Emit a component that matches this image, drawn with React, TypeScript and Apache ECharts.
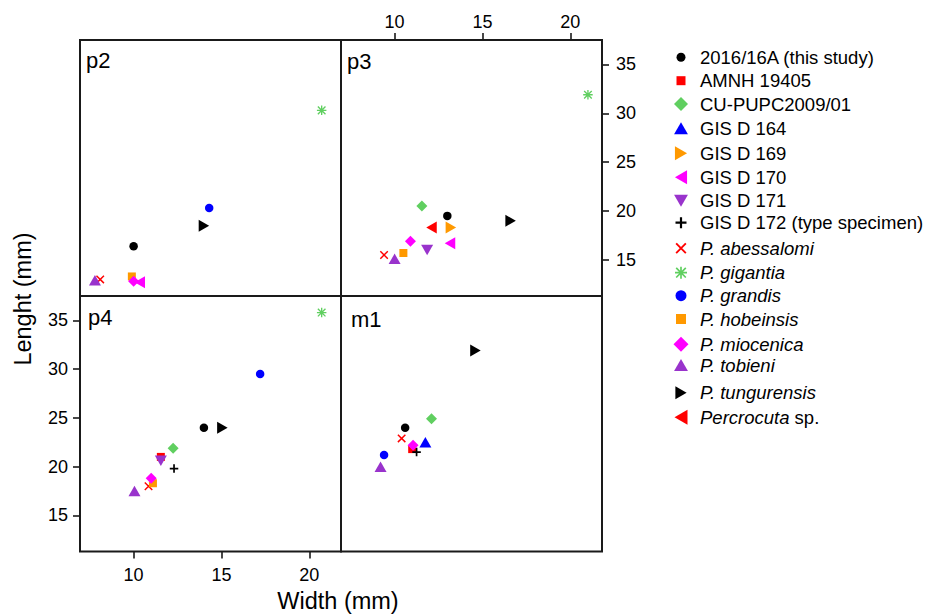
import React, { useEffect, useRef } from 'react';
import * as echarts from 'echarts';

const FONT = '"Liberation Sans", Arial, Helvetica, sans-serif';

// ---- categories (legend order = drawing order) ----
const species = [
  '2016/16A (this study)',
  'AMNH 19405',
  'CU-PUPC2009/01',
  'GIS D 164',
  'GIS D 169',
  'GIS D 170',
  'GIS D 171',
  'GIS D 172 (type specimen)',
  'P. abessalomi',
  'P. gigantia',
  'P. grandis',
  'P. hobeinsis',
  'P. miocenica',
  'P. tobieni',
  'P. tungurensis',
  'Percrocuta sp.',
];

const colors = [
  '#000000', '#FF0000', '#60CF60', '#0000FF', '#FF9900', '#FF00FF', '#9933CC', '#000000',
  '#FF0000', '#60CF60', '#0000FF', '#FF9900', '#FF00FF', '#9933CC', '#000000', '#FF0000',
];

const SYM = {
  circle: 'path://M5,0A5,5,0,1,1,5,10A5,5,0,1,1,5,0Z',
  square: 'path://M0,0H10V10H0Z',
  diamond: 'path://M5,0L10,5L5,10L0,5Z',
  triUp: 'path://M5,0L10,8.66L0,8.66Z',
  triDown: 'path://M0,0L10,0L5,8.66Z',
  triRight: 'path://M0,0L8.66,5L0,10Z',
  triLeft: 'path://M8.66,0L0,5L8.66,10Z',
  plus: 'path://M4,0H6V10H4Z M0,4H10V6H0Z',
  cross: 'path://M0,1.2L1.2,0L10,8.8L8.8,10Z M8.8,0L10,1.2L1.2,10L0,8.8Z',
  star: 'path://M4.3,0H5.7V10H4.3Z M0,4.3H10V5.7H0Z M0.5,1.5L1.5,0.5L9.5,8.5L8.5,9.5Z M8.5,0.5L9.5,1.5L1.5,9.5L0.5,8.5Z',
};

// width / height of each symbol's path
const SYM_ASPECT: Record<string, number> = {
  circle: 1, square: 1, diamond: 1, triUp: 1.1547, triDown: 1.1547,
  triRight: 0.866, triLeft: 0.866, plus: 1, cross: 1, star: 1,
};

const symbolKeys = [
  'circle', 'square', 'diamond', 'triUp', 'triRight', 'triLeft', 'triDown', 'plus',
  'cross', 'star', 'circle', 'square', 'diamond', 'triUp', 'triRight', 'triLeft',
];

const symbolSizes: [number, number][] = [
  [8.5, 8.5], [8, 8], [11, 11], [12, 10.5], [10.5, 12], [10.5, 12], [12, 10.5], [8.5, 8.5],
  [8.5, 8.5], [9.5, 9.5], [8.5, 8.5], [8, 8], [11, 11], [12, 10.5], [10.5, 12], [10.5, 12],
];

const legendIconHeights = [9, 9, 14, 12, 14, 14, 12, 11, 11, 12, 11, 10, 15, 12, 13, 15];
const legendRowY = [57.3, 80.7, 104, 128.3, 153.3, 177.3, 200.7, 222.7, 248.3, 272.7, 295.7, 319, 344.3, 365, 392.7, 417.3];

// ---- data: [species, width (mm), length (mm)] ----
const p2Points: [string, number, number][] = [
  ['2016/16A (this study)', 10.0, 16.4],
  ['GIS D 170', 10.35, 12.7],
  ['P. abessalomi', 8.1, 13.0],
  ['P. gigantia', 20.7, 30.3],
  ['P. grandis', 14.3, 20.3],
  ['P. hobeinsis', 9.9, 13.3],
  ['P. miocenica', 10.0, 12.8],
  ['P. tobieni', 7.8, 12.9],
  ['P. tungurensis', 14.0, 18.5],
];

const p3Points: [string, number, number][] = [
  ['2016/16A (this study)', 13.0, 19.5],
  ['CU-PUPC2009/01', 11.55, 20.5],
  ['GIS D 169', 13.2, 18.3],
  ['GIS D 170', 13.15, 16.7],
  ['GIS D 171', 11.85, 16.0],
  ['P. abessalomi', 9.4, 15.5],
  ['P. gigantia', 21.0, 31.9],
  ['P. hobeinsis', 10.5, 15.7],
  ['P. miocenica', 10.9, 16.9],
  ['P. tobieni', 10.0, 15.1],
  ['P. tungurensis', 16.6, 19.0],
  ['Percrocuta sp.', 12.1, 18.3],
];

const p4Points: [string, number, number][] = [
  ['2016/16A (this study)', 14.0, 24.0],
  ['AMNH 19405', 11.55, 21.0],
  ['CU-PUPC2009/01', 12.25, 21.9],
  ['GIS D 171', 11.55, 20.6],
  ['GIS D 172 (type specimen)', 12.3, 19.8],
  ['P. abessalomi', 10.85, 18.0],
  ['P. gigantia', 20.7, 35.8],
  ['P. grandis', 17.2, 29.5],
  ['P. hobeinsis', 11.1, 18.3],
  ['P. miocenica', 11.0, 18.8],
  ['P. tobieni', 10.05, 17.5],
  ['P. tungurensis', 15.05, 24.0],
];

const m1Points: [string, number, number][] = [
  ['2016/16A (this study)', 10.6, 24.0],
  ['AMNH 19405', 11.0, 21.8],
  ['CU-PUPC2009/01', 12.1, 24.9],
  ['GIS D 164', 11.75, 22.5],
  ['GIS D 172 (type specimen)', 11.25, 21.5],
  ['P. abessalomi', 10.4, 22.9],
  ['P. grandis', 9.4, 21.2],
  ['P. miocenica', 11.05, 22.2],
  ['P. tobieni', 9.2, 20.0],
  ['P. tungurensis', 14.6, 31.9],
];

const panelNames = ['p2', 'p3', 'p4', 'm1'];
const panels = [p2Points, p3Points, p4Points, m1Points];

const xTicks = [10, 15, 20];
const yTicks = [15, 20, 25, 30, 35];
const X_MIN = 6.95;
const X_MAX = 21.8;
const Y_MIN = 11.3;
const Y_MAX = 37.5;

function legendLabel(name: string): string {
  if (name.startsWith('P. ')) return '{i|' + name + '}';
  if (name.startsWith('Percrocuta')) return '{i|Percrocuta} sp.';
  return name;
}

export default function App() {
  const ref = useRef<HTMLDivElement>(null);

  useEffect(() => {
    if (!ref.current) return;
    const chart = echarts.init(ref.current, undefined, { renderer: 'svg' });

    const gridRects = [
      { left: 80, top: 40, width: 261, height: 256 },
      { left: 341, top: 40, width: 261, height: 256 },
      { left: 80, top: 296, width: 261, height: 255.5 },
      { left: 341, top: 296, width: 261, height: 255.5 },
    ];

    const grid = gridRects.map((r) => ({
      ...r,
      show: true,
      borderColor: '#1a1a1a',
      borderWidth: 2,
      backgroundColor: 'transparent',
      outerBoundsMode: 'none',
    }));

    const tickLine = { color: '#1a1a1a', width: 1.6 };
    const labelBase = { color: '#000', fontSize: 18, fontFamily: FONT };

    const xShow = [false, true, true, false];
    const xPos = ['bottom', 'top', 'bottom', 'bottom'];
    const xMargin = [0, 9, 14, 0];
    const yShow = [false, true, true, false];
    const yPos = ['left', 'right', 'left', 'right'];
    const yMargin = [0, 14, 12, 0];

    const xAxis = panels.map((_, i) => ({
      type: 'value',
      gridIndex: i,
      min: X_MIN,
      max: X_MAX,
      position: xPos[i],
      axisLine: { show: false },
      splitLine: { show: false },
      axisTick: { show: xShow[i], inside: false, length: 7, lineStyle: tickLine, customValues: xTicks },
      axisLabel: { show: xShow[i], margin: xMargin[i], customValues: xTicks, ...labelBase },
    }));

    const yAxis = panels.map((_, i) => ({
      type: 'value',
      gridIndex: i,
      min: Y_MIN,
      max: Y_MAX,
      position: yPos[i],
      axisLine: { show: false },
      splitLine: { show: false },
      axisTick: { show: yShow[i], inside: false, length: 7, lineStyle: tickLine, customValues: yTicks },
      axisLabel: { show: yShow[i], margin: yMargin[i], customValues: yTicks, ...labelBase },
    }));

    const series: any[] = [];
    species.forEach((name, s) => {
      panels.forEach((pts, k) => {
        const data = pts.filter((p) => p[0] === name).map((p) => [p[1], p[2]]);
        if (!data.length) return;
        series.push({
          type: 'scatter',
          name,
          xAxisIndex: k,
          yAxisIndex: k,
          data,
          symbol: SYM[symbolKeys[s] as keyof typeof SYM],
          symbolSize: symbolSizes[s],
          itemStyle: { color: colors[s], opacity: 1 },
          emphasis: { disabled: true },
        });
      });
    });

    const ICON_CX = 681;
    const legend = species.map((name, s) => {
      const h = legendIconHeights[s];
      const w = h * SYM_ASPECT[symbolKeys[s]];
      return {
        show: true,
        orient: 'vertical',
        left: ICON_CX - w / 2,
        top: legendRowY[s] - 10,
        padding: 0,
        itemGap: 0,
        itemWidth: 28,
        itemHeight: h,
        symbolKeepAspect: true,
        selectedMode: false,
        data: [{ name, icon: SYM[symbolKeys[s] as keyof typeof SYM] }],
        formatter: legendLabel,
        textStyle: {
          color: '#000',
          fontSize: 18.5,
          lineHeight: 20,
          fontFamily: FONT,
          rich: {
            i: { fontStyle: 'italic', fontSize: 18.5, lineHeight: 20, fontFamily: FONT, color: '#000' },
          },
        },
      };
    });

    const panelLabelPos = [
      [86, 49],
      [347, 50],
      [88, 306],
      [351, 308],
    ];

    const graphic: any[] = panelNames.map((t, i) => ({
      type: 'text',
      x: panelLabelPos[i][0],
      y: panelLabelPos[i][1],
      style: { text: t, fontSize: 22, fontFamily: FONT, fill: '#000', align: 'left', verticalAlign: 'top' },
    }));
    graphic.push({
      type: 'text',
      x: 338,
      y: 601,
      style: {
        text: 'Width (mm)', fontSize: 23.5, fontFamily: FONT, fill: '#000',
        align: 'center', verticalAlign: 'middle', textAlign: 'center', textVerticalAlign: 'middle',
      },
    });
    graphic.push({
      type: 'text',
      x: 22.5,
      y: 299,
      rotation: Math.PI / 2,
      style: {
        text: 'Lenght (mm)', fontSize: 23.5, fontFamily: FONT, fill: '#000',
        align: 'center', verticalAlign: 'middle', textAlign: 'center', textVerticalAlign: 'middle',
      },
    });

    chart.setOption({
      animation: false,
      backgroundColor: '#ffffff',
      textStyle: { fontFamily: FONT },
      grid,
      xAxis,
      yAxis,
      legend,
      series,
      graphic,
    });

    return () => chart.dispose();
  }, []);

  return (
    <div
      ref={ref}
      style={{ position: 'absolute', left: 0, top: 0, width: 927, height: 615, background: '#fff' }}
    />
  );
}
